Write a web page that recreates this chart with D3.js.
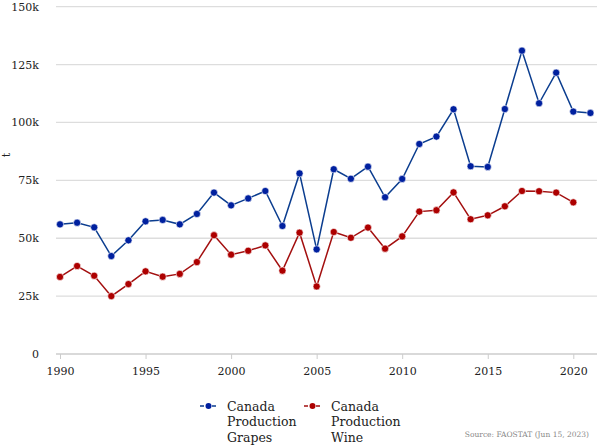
<!DOCTYPE html>
<html>
<head>
<meta charset="utf-8">
<script src="https://cdn.jsdelivr.net/npm/d3@7"></script>
<style>
  body { margin: 0; background: #fff; }
  svg { font-family: 'DejaVu Serif', serif; }
</style>
</head>
<body>
<svg id="grafico"></svg>
<script>
const anos = d3.range(1990, 2022);
const uvas = [56.0, 56.7, 54.7, 42.3, 49.1, 57.3, 57.9, 56.0, 60.5, 69.7,
              64.2, 67.2, 70.4, 55.3, 78.0, 45.2, 79.8, 75.7, 80.9, 67.7,
              75.6, 90.7, 93.9, 105.7, 81.1, 80.8, 105.8, 131.0, 108.3, 121.5,
              104.7, 104.1];
const vinho = [33.3, 38.0, 33.8, 25.0, 30.2, 35.7, 33.4, 34.6, 39.7, 51.3,
               42.9, 44.6, 46.9, 36.0, 52.4, 29.2, 52.7, 50.2, 54.6, 45.5,
               50.8, 61.5, 62.1, 69.8, 58.2, 59.9, 63.8, 70.4, 70.3, 69.7,
               65.5];
const ticksY = [0, 25000, 50000, 75000, 100000, 125000, 150000];
const ticksX = [1990, 1995, 2000, 2005, 2010, 2015, 2020];

const series = [
  { nome: ['Canada', 'Production', 'Grapes'], valores: uvas, linha: '#0b3d8f', ponto: '#00209f' },
  { nome: ['Canada', 'Production', 'Wine'], valores: vinho, linha: '#a30f0f', ponto: '#ad0000' }
];

const largura = 597, altura = 447;
const svg = d3.select('#grafico').attr('width', largura).attr('height', altura);

const fnX = d3.scaleLinear().domain([1990, 2020]).range([60, 573.3]);
const fnY = d3.scaleLinear().domain([0, 150000]).range([354, 6.7]);

// grade
svg.append('g')
  .selectAll('line')
  .data(ticksY.slice(1))
  .join('line')
  .attr('x1', 56).attr('x2', largura)
  .attr('y1', d => fnY(d)).attr('y2', d => fnY(d))
  .attr('stroke', '#dddddd').attr('stroke-width', 1.3);

// eixo Y (sem linha)
const eixoY = svg.append('g')
  .attr('transform', 'translate(46,0)')
  .call(d3.axisLeft(fnY).tickValues(ticksY).tickSize(0).tickPadding(7)
    .tickFormat(d => d === 0 ? '0' : (d / 1000) + 'k'));
eixoY.select('.domain').remove();
eixoY.selectAll('text').attr('font-family', 'DejaVu Serif').attr('font-size', 11).attr('fill', '#222');

// eixo X
const eixoX = svg.append('g')
  .attr('transform', 'translate(0,354)')
  .call(d3.axisBottom(fnX).tickValues(ticksX).tickSize(5).tickPadding(8).tickFormat(d3.format('d')));
eixoX.select('.domain').attr('d', 'M56,0H' + largura).attr('stroke', '#cccccc').attr('stroke-width', 1.3);
eixoX.selectAll('.tick line').attr('stroke', '#cccccc');
eixoX.selectAll('text').attr('font-family', 'DejaVu Serif').attr('font-size', 11).attr('fill', '#222');

// titulo Y
svg.append('text')
  .attr('transform', 'translate(10,155) rotate(-90)')
  .style('text-anchor', 'middle')
  .attr('font-size', 11).attr('fill', '#222')
  .text('t');

// linhas e pontos
const linha = d3.line().x((d, i) => fnX(anos[i])).y(d => fnY(d * 1000));
series.forEach(s => {
  svg.append('path')
    .datum(s.valores)
    .attr('d', linha)
    .attr('fill', 'none')
    .attr('stroke', s.linha)
    .attr('stroke-width', 1.5);
  svg.append('g')
    .selectAll('circle')
    .data(s.valores)
    .join('circle')
    .attr('cx', (d, i) => fnX(anos[i]))
    .attr('cy', d => fnY(d * 1000))
    .attr('r', 3.6)
    .attr('fill', s.ponto)
    .attr('stroke', '#fff')
    .attr('stroke-width', 0.6);
});

// legenda
const legenda = svg.append('g').selectAll('g')
  .data(series)
  .join('g')
  .attr('transform', (d, i) => 'translate(' + (200 + i * 104) + ',406)');
legenda.append('line')
  .attr('x1', 0).attr('x2', 17).attr('y1', 0).attr('y2', 0)
  .attr('stroke', d => d.linha).attr('stroke-width', 1.5)
  .attr('stroke-dasharray', '4,2');
legenda.append('circle')
  .attr('cx', 8.5).attr('cy', 0).attr('r', 3)
  .attr('fill', d => d.ponto);
legenda.append('text')
  .attr('x', 27).attr('y', 4.5)
  .attr('font-size', 12.5).attr('fill', '#222')
  .selectAll('tspan')
  .data(d => d.nome)
  .join('tspan')
  .attr('x', 27)
  .attr('dy', (d, i) => i === 0 ? 0 : 15.5)
  .text(d => d);

// fonte
svg.append('text')
  .attr('x', 589).attr('y', 437)
  .style('text-anchor', 'end')
  .attr('font-size', 7.5).attr('fill', '#888')
  .text('Source: FAOSTAT (Jun 15, 2023)');
</script>
</body>
</html>
